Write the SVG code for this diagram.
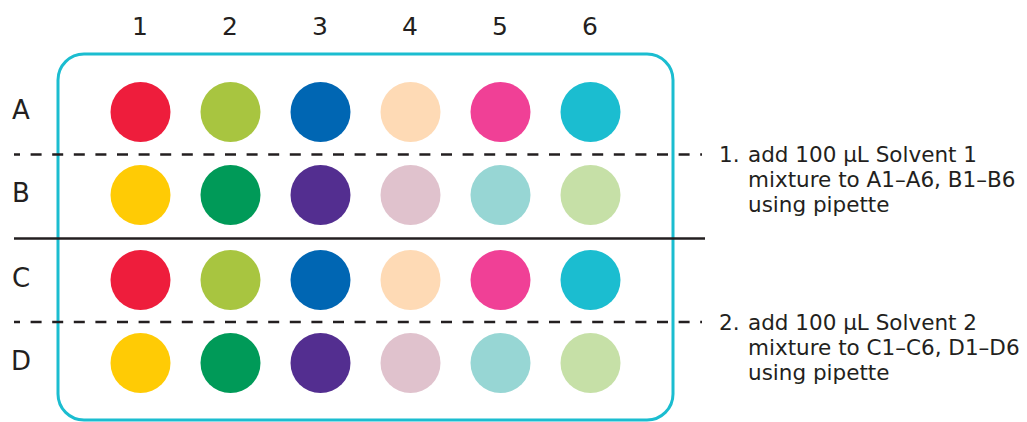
<svg xmlns="http://www.w3.org/2000/svg" width="1027" height="422" viewBox="0 0 1027 422">
<style>
text{font-family:"DejaVu Sans","Liberation Sans",sans-serif;fill:#231f20}
.hdr{font-size:25px;text-anchor:middle}
.row{font-size:26px;text-anchor:middle}
.note{font-size:21.5px}
.dash{stroke:#231f20;stroke-width:2.5;stroke-dasharray:11 10.6;stroke-dashoffset:5;fill:none}
.solid{stroke:#231f20;stroke-width:2.5;fill:none}
</style>
<rect width="1027" height="422" fill="#fff"/>
<g id="plate"><rect x="58" y="54" width="615" height="366" rx="26" fill="none" stroke="#1bbdd0" stroke-width="3"/></g>
<g id="col-labels">
<text class="hdr" x="140" y="35">1</text><text class="hdr" x="230" y="35">2</text><text class="hdr" x="320" y="35">3</text><text class="hdr" x="410" y="35">4</text><text class="hdr" x="500" y="35">5</text><text class="hdr" x="590" y="35">6</text>
</g>
<g id="row-labels">
<text class="row" x="21" y="119">A</text><text class="row" x="21" y="202">B</text><text class="row" x="21" y="287">C</text><text class="row" x="21" y="370">D</text>
</g>
<g id="row-A">
<circle cx="140.5" cy="112" r="30" fill="#ee1d3c"/><circle cx="230.5" cy="112" r="30" fill="#a8c540"/><circle cx="320.5" cy="112" r="30" fill="#0066b3"/><circle cx="410.5" cy="112" r="30" fill="#fedab5"/><circle cx="500.5" cy="112" r="30" fill="#f04096"/><circle cx="590.5" cy="112" r="30" fill="#1bbdd0"/>
</g>
<g id="row-B">
<circle cx="140.5" cy="195" r="30" fill="#ffcb05"/><circle cx="230.5" cy="195" r="30" fill="#009a58"/><circle cx="320.5" cy="195" r="30" fill="#532e90"/><circle cx="410.5" cy="195" r="30" fill="#e0c2cd"/><circle cx="500.5" cy="195" r="30" fill="#97d6d4"/><circle cx="590.5" cy="195" r="30" fill="#c6e0a7"/>
</g>
<g id="row-C">
<circle cx="140.5" cy="280" r="30" fill="#ee1d3c"/><circle cx="230.5" cy="280" r="30" fill="#a8c540"/><circle cx="320.5" cy="280" r="30" fill="#0066b3"/><circle cx="410.5" cy="280" r="30" fill="#fedab5"/><circle cx="500.5" cy="280" r="30" fill="#f04096"/><circle cx="590.5" cy="280" r="30" fill="#1bbdd0"/>
</g>
<g id="row-D">
<circle cx="140.5" cy="363" r="30" fill="#ffcb05"/><circle cx="230.5" cy="363" r="30" fill="#009a58"/><circle cx="320.5" cy="363" r="30" fill="#532e90"/><circle cx="410.5" cy="363" r="30" fill="#e0c2cd"/><circle cx="500.5" cy="363" r="30" fill="#97d6d4"/><circle cx="590.5" cy="363" r="30" fill="#c6e0a7"/>
</g>
<g id="connectors">
<line class="dash" x1="14" y1="154.5" x2="702" y2="154.5"/>
<line class="solid" x1="14" y1="238.5" x2="705" y2="238.5"/>
<line class="dash" x1="14" y1="322" x2="702" y2="322"/>
</g>
<g id="note-1">
<text class="note" x="719" y="162">1.</text>
<text class="note" x="748" y="162">add 100 µL Solvent 1</text>
<text class="note" x="748" y="187">mixture to A1–A6, B1–B6</text>
<text class="note" x="748" y="212">using pipette</text>
</g>
<g id="note-2">
<text class="note" x="719" y="330">2.</text>
<text class="note" x="748" y="330">add 100 µL Solvent 2</text>
<text class="note" x="748" y="355">mixture to C1–C6, D1–D6</text>
<text class="note" x="748" y="380">using pipette</text>
</g>
</svg>
